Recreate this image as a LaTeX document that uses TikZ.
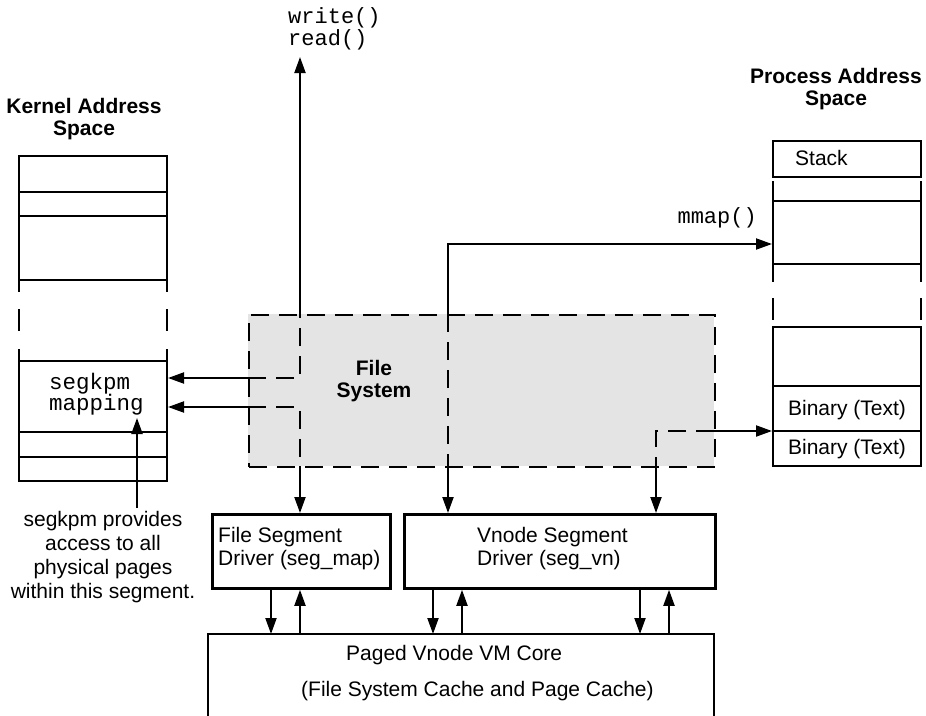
\documentclass[tikz,border=0pt]{standalone}
\usepackage{fontspec}
\setmainfont{Liberation Sans}
\setmonofont{Liberation Mono}
\usetikzlibrary{arrows.meta}
\definecolor{fsgray}{HTML}{E4E4E4}
\begin{document}
\begin{tikzpicture}[x=1pt,y=-1pt,
  conn/.style={line width=2pt},
  arr/.style={conn,-{Triangle[length=16pt,width=11pt]}},
  dconn/.style={conn,dash pattern=on 18pt off 10pt},
  boxline/.style={line width=2.8pt},
  segline/.style={line width=2.3pt},
  drvbox/.style={draw,line width=2.8pt,inner sep=0pt,anchor=north west},
  fsbox/.style={draw,line width=2pt,dash pattern=on 18pt off 10pt,inner sep=0pt,anchor=north west},
  sans/.style={font=\fontsize{21}{23}\selectfont,inner sep=0pt},
  boldt/.style={font=\fontsize{21}{22}\selectfont\bfseries,inner sep=0pt,align=center},
  mono/.style={font=\fontsize{22}{22}\selectfont\ttfamily,inner sep=0pt},
]
\useasboundingbox (0,0) rectangle (926,715);

% ---------- File System (dashed, grey) ----------
\path[fill=fsgray] (248,314) rectangle (714,466);

% coordinates for connectors
\coordinate (k1) at (168,378);
\coordinate (k2) at (168,407);
\coordinate (f1) at (248,378);
\coordinate (f2) at (248,407);
\coordinate (c1) at (300,378);
\coordinate (c2) at (300,407);
\coordinate (t1) at (300,314);
\coordinate (b2) at (300,466);
\coordinate (wrtip) at (300,57);
\coordinate (m0) at (448,244);
\coordinate (mt) at (448,314);
\coordinate (mb) at (448,466);
\coordinate (pm) at (772,244);
\coordinate (bc) at (656,431);
\coordinate (be) at (714,431);
\coordinate (bb) at (656,466);
\coordinate (pb) at (772,431);
\coordinate (sk) at (137,508);
\coordinate (sktip) at (137,418);

% dashed parts inside the file system
\draw[dconn] (f1) -- (c1) -- (t1);
\draw[dconn] (f2) -- (c2) -- (b2);
\draw[dconn] (mt) -- (mb);
\draw[dconn] (be) -- (bc) -- (bb);

\node[fsbox,minimum width=466pt,minimum height=152pt] (fs) at (248,314) {};
\node[boldt] (fslabel) at (374,381) {File\\System};

% ---------- Kernel Address Space ----------
\node[boldt] (ktitle) at (84,119) {Kernel Address\\Space};
\draw[segline] (19,156) -- (167,156) (19,192) -- (167,192) (19,216) -- (167,216)
  (19,280) -- (167,280) (19,361) -- (167,361) (19,432) -- (167,432)
  (19,457) -- (167,457) (19,481) -- (167,481);
\draw[segline] (19,155) -- (19,292) (167,155) -- (167,292)
  (19,309) -- (19,331) (167,309) -- (167,331)
  (19,349) -- (19,482) (167,349) -- (167,482);
\node[mono,align=left,anchor=west,font=\fontsize{22.5}{21}\selectfont\ttfamily] (segkpm) at (49,394) {segkpm\\mapping};
\node[sans,align=center,font=\fontsize{21}{24}\selectfont] (note) at (103,557) {segkpm provides\\access to all\\physical pages\\within this segment.};

% ---------- Process Address Space ----------
\node[boldt] (ptitle) at (836,89) {Process Address\\Space};
\draw[segline] (773,141) rectangle (921,177);
\draw[segline] (773,181) -- (773,282) (921,181) -- (921,282)
  (773,201) -- (921,201) (773,264) -- (921,264)
  (773,298) -- (773,320) (921,298) -- (921,320);
\draw[segline] (773,327) rectangle (921,466);
\draw[segline] (773,386) -- (921,386) (773,431) -- (921,431);
\node[sans,anchor=west] (stack) at (795,158) {Stack};
\node[sans] (bin1) at (847,410) {Binary (Text)};
\node[sans] (bin2) at (847,449) {Binary (Text)};

% ---------- system call labels ----------
\node[mono,align=left,anchor=west] (wr) at (288,29) {write()\\read()};
\node[mono,anchor=east] (mmap) at (757,218) {mmap()};

% ---------- segment drivers ----------
\node[drvbox,minimum width=178pt,minimum height=74pt] (fsd) at (211,513) {};
\node[sans,align=left,anchor=west] (fsdl) at (218,549) {File Segment\\Driver (seg\_map)};
\node[drvbox,minimum width=311pt,minimum height=74pt] (vsd) at (403,513) {};
\node[sans,align=left,anchor=west] (vsdl) at (477,549) {Vnode Segment\\Driver (seg\_vn)};

% ---------- paged vnode VM core ----------
\coordinate (coreL) at (208,634);
\coordinate (coreR) at (714,634);
\draw[boxline] (208,717) -- (coreL) -- (coreR) -- (714,717);
\node[sans,anchor=west] (core1) at (346,655) {Paged Vnode VM Core};
\node[sans,anchor=west] (core2) at (301,691) {(File System Cache and Page Cache)};

% ---------- solid connectors ----------
\draw[arr] (f1) -- (k1);
\draw[arr] (f2) -- (k2);
\draw[arr] (t1) -- (wrtip);
\draw[arr] (b2) -- (b2 |- fsd.north);
\draw[arr] (mt) -- (m0) -- (pm);
\draw[arr] (mb) -- (mb |- vsd.north);
\draw[arr] (be) -- (pb);
\draw[arr] (bb) -- (bb |- vsd.north);
\draw[arr] (sk) -- (sktip);

\coordinate (d1) at (271,634);
\coordinate (u1) at (300,634);
\coordinate (d2) at (433,634);
\coordinate (u2) at (462,634);
\coordinate (d3) at (640,634);
\coordinate (u3) at (669,634);
\draw[arr] (d1 |- fsd.south) -- (d1);
\draw[arr] (u1) -- (u1 |- fsd.south);
\draw[arr] (d2 |- vsd.south) -- (d2);
\draw[arr] (u2) -- (u2 |- vsd.south);
\draw[arr] (d3 |- vsd.south) -- (d3);
\draw[arr] (u3) -- (u3 |- vsd.south);
\end{tikzpicture}
\end{document}
